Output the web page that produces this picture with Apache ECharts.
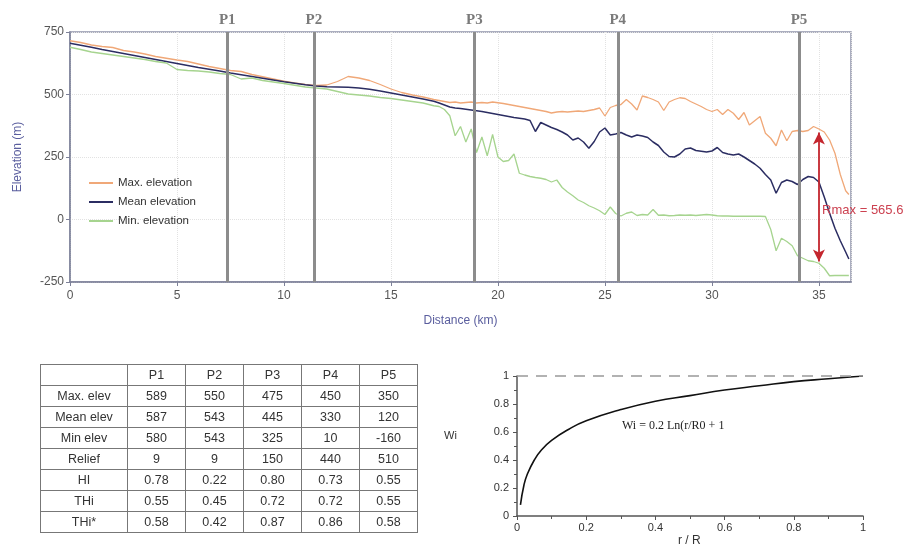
<!DOCTYPE html>
<html>
<head>
<meta charset="utf-8">
<script src="https://cdn.jsdelivr.net/npm/echarts@6/dist/echarts.min.js"></script>
<style>
  html, body { margin:0; padding:0; background:#fff; }
  #wrap { position:relative; width:912px; height:544px; overflow:hidden; }
  #chart { position:absolute; left:0; top:0; width:912px; height:544px; }
  #tbl { position:absolute; left:40px; top:364px; border-collapse:collapse; font-family:Arial, 'Liberation Sans', sans-serif; font-size:12.5px; color:#333; }
  #tbl td { border:1px solid #777; height:20px; padding:0; text-align:center; width:57px; }
  #tbl td:first-child { width:86px; }
</style>
</head>
<body>
<div id="wrap">
  <div id="chart"></div>
  <table id="tbl"></table>
</div>
<script>
const colors = ['#f0a878', '#2b2d62', '#a6d48f'];

// distance along profile (km)
const distance = [0,0.5,1,1.5,2,2.5,3,3.5,4,4.5,5,5.5,6,6.5,7,7.5,8,8.5,9,9.5,10,10.5,11,11.5,12,12.5,13,13.5,14,14.5,15,15.5,16,16.5,17,
  17.25,17.5,17.75,18,18.25,18.5,18.75,19,19.25,19.5,19.75,20,20.25,20.5,20.75,21,21.25,21.5,21.75,22,22.25,22.5,22.75,
  23,23.25,23.5,23.75,24,24.25,24.5,24.75,25,25.25,25.5,25.75,26,26.25,26.5,26.75,27,27.25,27.5,27.75,28,28.25,28.5,28.75,
  29,29.25,29.5,29.75,30,30.25,30.5,30.75,31,31.25,31.5,31.75,32,32.25,32.5,32.75,33,33.25,33.5,33.75,34,34.25,34.5,34.75,
  35,35.25,35.5,35.75,36,36.25,36.4];

const maxElev = [715,708,698,692,688,676,670,662,652,645,638,632,622,612,604,596,592,580,571,562,553,546,540,536,538,552,572,566,556,540,522,508,498,490,480,
  476,472,468,470,466,468,470,466,468,466,470,467,464,460,456,452,448,444,440,436,432,426,430,
  432,430,432,434,432,436,440,446,414,448,456,460,480,462,438,494,488,480,470,436,470,480,487,484,
  472,462,452,440,432,440,420,440,425,400,428,378,395,412,345,325,295,358,315,352,356,352,356,372,
  362,350,318,265,180,115,100];

const meanElev = [705,697,689,680,672,664,656,648,640,632,624,616,608,601,594,586,579,572,565,558,551,545,539,534,531,530,529,526,521,514,506,498,490,482,473,
  466,458,450,446,444,441,438,435,432,428,424,420,416,412,408,405,402,396,352,388,378,368,360,
  350,338,318,326,310,285,312,350,366,338,342,348,338,330,338,334,328,310,296,270,252,250,262,282,
  286,276,273,270,274,288,268,262,258,262,250,236,222,205,180,158,105,148,158,152,140,160,172,168,
  150,90,25,-35,-85,-130,-158];

const minElev = [689,680,670,664,658,652,646,640,632,626,600,596,594,590,584,580,562,566,556,550,544,537,530,526,522,512,502,498,494,488,484,478,472,466,455,
  452,440,415,335,372,310,362,268,330,255,340,250,232,236,262,185,178,172,168,165,160,150,158,
  128,110,95,78,68,55,46,35,20,50,24,14,25,30,16,20,18,40,17,18,15,16,18,17,
  18,16,18,20,18,15,14,14,13,13,13,13,13,13,12,-40,-125,-75,-88,-105,-145,-155,-165,-168,
  -175,-195,-225,-224,-224,-224,-224];

// profile positions (km)
const pNames = ['P1','P2','P3','P4','P5'];
const pDist = [7.35, 11.4, 18.9, 25.6, 34.07];

// max relief arrow
const rmaxDist = 35;
const rmaxTop = 348;
const rmaxBottom = -168;
const rmaxLabel = 'Rmax = 565.6';

// table
const tableRows = ['Max. elev','Mean elev','Min elev','Relief','HI','THi','THi*'];
const tableValues = [
  ['589','550','475','450','350'],
  ['587','543','445','330','120'],
  ['580','543','325','10','-160'],
  ['9','9','150','440','510'],
  ['0.78','0.22','0.80','0.73','0.55'],
  ['0.55','0.45','0.72','0.72','0.55'],
  ['0.58','0.42','0.87','0.86','0.58']
];

// weight curve Wi vs r/R
const rRatio = [0.01,0.02,0.03,0.05,0.07,0.1,0.15,0.2,0.3,0.4,0.5,0.6,0.7,0.8,0.9,1.0];
const wi = [0.08,0.22,0.30,0.40,0.47,0.54,0.62,0.68,0.76,0.82,0.86,0.90,0.93,0.96,0.98,1.0];

let html = '<tr><td></td>' + pNames.map(p=>'<td>' + p + '</td>').join('') + '</tr>';
tableRows.forEach((r,i)=>{
  html += '<tr><td>' + r + '</td>' + tableValues[i].map(v=>'<td>' + v + '</td>').join('') + '</tr>';
});
document.getElementById('tbl').innerHTML = html;

const font = 'Arial, "Liberation Sans", sans-serif';
const serif = '"Liberation Serif", "DejaVu Serif", serif';
const zip = arr => distance.map((d,i)=>[d, arr[i]]);

const myChart = echarts.init(document.getElementById('chart'));
const option = {
  animation:false,
  textStyle:{ fontFamily:font },
  legend:{
    left:84,
    top:172,
    orient:'vertical',
    icon:'rect',
    itemWidth:24,
    itemHeight:2,
    itemGap:7,
    textStyle:{ fontSize:11.5, color:'#333', fontFamily:font },
    data:['Max. elevation','Mean elevation','Min. elevation']
  },
  grid:[
    { left:70, right:61, top:32, bottom:262, show:true, borderColor:'#9094aa', borderWidth:1.5 },
    { left:517, width:346, top:376, height:140 }
  ],
  xAxis:[
    {
      type:'value', gridIndex:0, min:0, max:36.5, interval:5,
      name:'Distance (km)', nameLocation:'middle', nameGap:33,
      nameTextStyle:{ color:'#5a5e9e', fontSize:12 },
      axisLine:{ onZero:false, lineStyle:{ color:'#7d8199', width:1.5 } },
      axisTick:{ length:4, lineStyle:{ color:'#7d8199' } },
      axisLabel:{ color:'#555', fontSize:12, showMaxLabel:false },
      splitLine:{ show:true, lineStyle:{ color:'#e2e2e2', type:'dotted' } }
    },
    {
      type:'value', gridIndex:1, min:0, max:1, interval:0.2,
      axisLine:{ onZero:false, lineStyle:{ color:'#555', width:1.5 } },
      axisTick:{ length:4, lineStyle:{ color:'#555' } },
      minorTick:{ show:true, splitNumber:2, length:3, lineStyle:{ color:'#555' } },
      axisLabel:{ color:'#333', fontSize:11, margin:6 },
      splitLine:{ show:false }
    }
  ],
  yAxis:[
    {
      type:'value', gridIndex:0, min:-250, max:750, interval:250,
      name:'Elevation (m)', nameLocation:'middle', nameGap:46,
      nameTextStyle:{ color:'#5a5e9e', fontSize:12 },
      axisLine:{ show:true, onZero:false, lineStyle:{ color:'#7d8199', width:1.5 } },
      axisTick:{ show:true, length:4, lineStyle:{ color:'#7d8199' } },
      axisLabel:{ color:'#555', fontSize:12, margin:6 },
      splitLine:{ show:true, lineStyle:{ color:'#e2e2e2', type:'dotted' } }
    },
    {
      type:'value', gridIndex:1, min:0, max:1, interval:0.2,
      axisLine:{ show:true, onZero:false, lineStyle:{ color:'#555', width:1.5 } },
      axisTick:{ show:true, length:4, lineStyle:{ color:'#555' } },
      minorTick:{ show:true, splitNumber:2, length:3, lineStyle:{ color:'#555' } },
      axisLabel:{ color:'#333', fontSize:11, margin:8 },
      splitLine:{ show:false }
    }
  ],
  series:[
    {
      name:'Max. elevation', type:'line', symbol:'none', data:zip(maxElev),
      lineStyle:{ color:colors[0], width:1.3 }, itemStyle:{ color:colors[0] }
    },
    {
      name:'Mean elevation', type:'line', symbol:'none', data:zip(meanElev),
      lineStyle:{ color:colors[1], width:1.5 }, itemStyle:{ color:colors[1] }
    },
    {
      name:'Min. elevation', type:'line', symbol:'none', data:zip(minElev),
      lineStyle:{ color:colors[2], width:1.3 }, itemStyle:{ color:colors[2] },
      markLine:{
        silent:true,
        symbol:['none','none'],
        lineStyle:{ color:'#8c8c8c', width:3, type:'solid' },
        label:{ position:'end', formatter:'{b}', color:'#7a7a7a', fontSize:15, fontWeight:'bold', fontFamily:serif, distance:4 },
        data:pDist.map((d,i)=>({ name:pNames[i], xAxis:d }))
      }
    },
    {
      name:'Rmax', type:'line', symbol:'none', data:[],
      markLine:{
        silent:true,
        symbol:['arrow','arrow'],
        symbolSize:[9,12],
        lineStyle:{ color:'#c4262e', width:1.8, type:'solid' },
        label:{ show:false },
        data:[[ { coord:[rmaxDist, rmaxTop] }, { coord:[rmaxDist, rmaxBottom] } ]]
      },
      markPoint:{
        silent:true,
        symbol:'circle', symbolSize:0,
        label:{ show:true, position:'right', distance:0, formatter:rmaxLabel, color:'#cc4150', fontSize:13 },
        data:[{ coord:[rmaxDist + 0.15, 36] }]
      }
    },
    {
      name:'Wi', type:'line', xAxisIndex:1, yAxisIndex:1, symbol:'none', smooth:true,
      data:rRatio.map((r,i)=>[r, wi[i]]),
      lineStyle:{ color:'#111', width:1.6 },
      markLine:{
        silent:true,
        symbol:['none','none'],
        lineStyle:{ color:'#999', width:1.5, type:[11,8] },
        label:{ show:false },
        data:[{ yAxis:1 }]
      }
    }
  ],
  graphic:[
    { type:'text', left:444, top:430, style:{ text:'Wi', font:'11px ' + font, fill:'#333' } },
    { type:'text', left:622, top:420, style:{ text:'Wi = 0.2 Ln(r/R0 + 1', font:'12px ' + serif, fill:'#222' } },
    { type:'text', left:678, top:535, style:{ text:'r / R', font:'12px ' + font, fill:'#333' } }
  ]
};
myChart.setOption(option);
</script>
</body>
</html>
